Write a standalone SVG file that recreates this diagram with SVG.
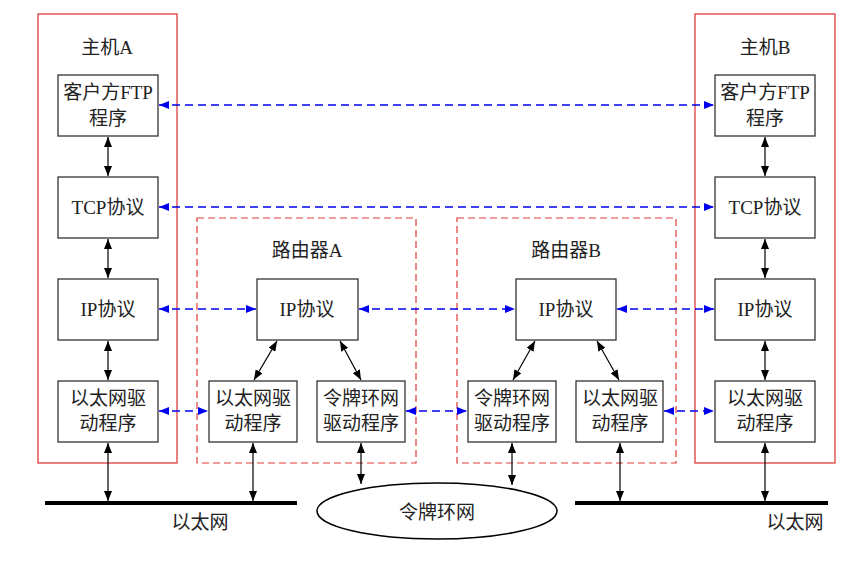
<svg xmlns="http://www.w3.org/2000/svg" width="850" height="562" viewBox="0 0 850 562">
<defs>
<marker id="ab" viewBox="0 0 10 8" refX="10" refY="4" markerWidth="10" markerHeight="8" markerUnits="userSpaceOnUse" orient="auto-start-reverse"><path d="M0,0 L10,4 L0,8 z" fill="#000"/></marker>
<marker id="au" viewBox="0 0 10 8" refX="10" refY="4" markerWidth="10" markerHeight="8" markerUnits="userSpaceOnUse" orient="auto-start-reverse"><path d="M0,0 L10,4 L0,8 z" fill="#0000ee"/></marker>
<style>
text{font-family:"Liberation Serif","Noto Sans CJK SC",serif;font-size:19px;fill:#222;text-anchor:middle;dominant-baseline:central}
.box{fill:#fff;stroke:#333;stroke-width:1.3}
.host{fill:none;stroke:#e03c3c;stroke-width:1.3}
.router{fill:none;stroke:#e03c3c;stroke-width:1.2;stroke-dasharray:7,4}
.blk{stroke:#000;stroke-width:1.2;fill:none;marker-start:url(#ab);marker-end:url(#ab)}
.blu{stroke:#0000ee;stroke-width:1.3;fill:none;stroke-dasharray:8,5;marker-start:url(#au);marker-end:url(#au)}
.net{stroke:#000;stroke-width:4}
</style>
</defs>
<g id="hostA"><rect class="host" x="38" y="14" width="139" height="449"/><text x="107" y="47">主机A</text></g>
<g id="hostB"><rect class="host" x="695" y="14" width="140" height="449"/><text x="765" y="47">主机B</text></g>
<g id="routerA"><rect class="router" x="197" y="218" width="219" height="245"/><text x="307" y="250">路由器A</text></g>
<g id="routerB"><rect class="router" x="457" y="218" width="219" height="245"/><text x="566" y="250">路由器B</text></g>

<g id="ftpA"><rect class="box" x="58" y="75" width="100" height="61"/><text x="108" y="92">客户方FTP</text><text x="108" y="118">程序</text></g>
<g id="tcpA"><rect class="box" x="58" y="177" width="100" height="61"/><text x="108" y="207">TCP协议</text></g>
<g id="ipA"><rect class="box" x="58" y="279" width="100" height="61"/><text x="108" y="309">IP协议</text></g>
<g id="ethA"><rect class="box" x="58" y="381" width="100" height="61"/><text x="108" y="398">以太网驱</text><text x="108" y="423">动程序</text></g>

<g id="ftpB"><rect class="box" x="715" y="75" width="100" height="61"/><text x="765" y="92">客户方FTP</text><text x="765" y="118">程序</text></g>
<g id="tcpB"><rect class="box" x="715" y="177" width="100" height="61"/><text x="765" y="207">TCP协议</text></g>
<g id="ipB"><rect class="box" x="715" y="279" width="100" height="61"/><text x="765" y="309">IP协议</text></g>
<g id="ethB"><rect class="box" x="715" y="381" width="100" height="61"/><text x="765" y="398">以太网驱</text><text x="765" y="423">动程序</text></g>

<g id="ipRA"><rect class="box" x="257" y="279" width="101" height="61"/><text x="307" y="309">IP协议</text></g>
<g id="ethRA"><rect class="box" x="209" y="381" width="88" height="61"/><text x="253" y="398">以太网驱</text><text x="253" y="423">动程序</text></g>
<g id="tokRA"><rect class="box" x="317" y="381" width="88" height="61"/><text x="361" y="398">令牌环网</text><text x="361" y="423">驱动程序</text></g>

<g id="ipRB"><rect class="box" x="516" y="279" width="100" height="61"/><text x="566" y="309">IP协议</text></g>
<g id="tokRB"><rect class="box" x="468" y="381" width="88" height="61"/><text x="512" y="398">令牌环网</text><text x="512" y="423">驱动程序</text></g>
<g id="ethRB"><rect class="box" x="576" y="381" width="87" height="61"/><text x="620" y="398">以太网驱</text><text x="620" y="423">动程序</text></g>

<g id="ethernetA"><line class="net" x1="45" y1="503" x2="297" y2="503"/><text x="200" y="522">以太网</text></g>
<g id="ethernetB"><line class="net" x1="575" y1="503" x2="828" y2="503"/><text x="795" y="522">以太网</text></g>
<g id="tokenring"><ellipse cx="437" cy="511" rx="120" ry="28" fill="#fff" stroke="#000" stroke-width="1.5"/><text x="437" y="512">令牌环网</text></g>

<g id="connectors">
<line class="blu" x1="159" y1="105" x2="714" y2="105"/>
<line class="blu" x1="159" y1="207" x2="714" y2="207"/>
<line class="blu" x1="159" y1="309" x2="256" y2="309"/>
<line class="blu" x1="359" y1="309" x2="515" y2="309"/>
<line class="blu" x1="617" y1="309" x2="714" y2="309"/>
<line class="blu" x1="159" y1="411" x2="208" y2="411"/>
<line class="blu" x1="406" y1="411" x2="467" y2="411"/>
<line class="blu" x1="664" y1="411" x2="714" y2="411"/>

<line class="blk" x1="108" y1="137" x2="108" y2="176"/>
<line class="blk" x1="108" y1="239" x2="108" y2="278"/>
<line class="blk" x1="108" y1="341" x2="108" y2="380"/>
<line class="blk" x1="108" y1="443" x2="108" y2="501"/>
<line class="blk" x1="765" y1="137" x2="765" y2="176"/>
<line class="blk" x1="765" y1="239" x2="765" y2="278"/>
<line class="blk" x1="765" y1="341" x2="765" y2="380"/>
<line class="blk" x1="765" y1="443" x2="765" y2="501"/>

<line class="blk" x1="277" y1="341" x2="254" y2="380"/>
<line class="blk" x1="340" y1="341" x2="361" y2="380"/>
<line class="blk" x1="535" y1="341" x2="513" y2="380"/>
<line class="blk" x1="597" y1="341" x2="619" y2="380"/>

<line class="blk" x1="253" y1="443" x2="253" y2="501"/>
<line class="blk" x1="361" y1="443" x2="361" y2="484"/>
<line class="blk" x1="512" y1="443" x2="512" y2="485"/>
<line class="blk" x1="620" y1="443" x2="620" y2="501"/>
</g>
</svg>
